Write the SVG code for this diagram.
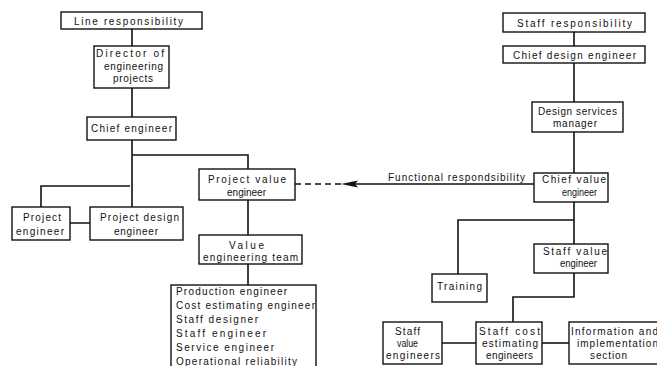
<svg xmlns="http://www.w3.org/2000/svg" width="657" height="366" viewBox="0 0 657 366">
<style>
.b{fill:#fff;stroke:#111;stroke-width:1.4}
.c{fill:none;stroke:#111;stroke-width:1.6}
text{font-family:"Liberation Sans",Arial,sans-serif;font-size:10px;fill:#111}
</style>
<rect width="657" height="366" fill="#fff"/>
<g id="connectors">
<path class="c" d="M132,29V46M132,88V117M132,140V207M132,155H248V169M130,186H41V207M70,223H90M248,200V235M248,264V285"/>
<path class="c" d="M574,32V46M574,63V102M574,132V173M574,202V244M574,220H458V274M574,273V297H513V322M442,343H476"/>
<path class="c" stroke-width="2.6" d="M542,343H569"/>
<path class="c" stroke-dasharray="6,4" d="M295,184H345"/>
<path class="c" d="M350,184H534"/>
<polygon points="341,184 358,180.5 355,184 358,187.5" fill="#111"/>
</g>
<g id="line-responsibility"><rect class="b" x="61" y="12" width="141" height="17"/><text x="74" y="25" textLength="109" lengthAdjust="spacing">Line responsibility</text></g>
<g id="director"><rect class="b" x="94" y="46" width="75" height="42"/>
<text x="96" y="57" textLength="68" lengthAdjust="spacing">Director of</text>
<text x="104" y="70" textLength="59" lengthAdjust="spacing">engineering</text>
<text x="113" y="82" textLength="40" lengthAdjust="spacing">projects</text></g>
<g id="chief-engineer"><rect class="b" x="87" y="117" width="89" height="23"/><text x="91" y="132" textLength="81" lengthAdjust="spacing">Chief engineer</text></g>
<g id="project-engineer"><rect class="b" x="12" y="207" width="58" height="33"/>
<text x="23" y="221" textLength="38" lengthAdjust="spacing">Project</text>
<text x="16" y="235" textLength="48" lengthAdjust="spacing">engineer</text></g>
<g id="project-design-engineer"><rect class="b" x="90" y="207" width="93" height="33"/>
<text x="100" y="221" textLength="79" lengthAdjust="spacing">Project design</text>
<text x="114" y="235" textLength="44" lengthAdjust="spacing">engineer</text></g>
<g id="project-value-engineer"><rect class="b" x="199" y="169" width="96" height="31"/>
<text x="208" y="183" textLength="78" lengthAdjust="spacing">Project value</text>
<text x="227" y="196" textLength="39" lengthAdjust="spacing">engineer</text></g>
<g id="value-engineering-team"><rect class="b" x="199" y="235" width="103" height="29"/>
<text x="229" y="249" textLength="35" lengthAdjust="spacing">Value</text>
<text x="203" y="261" textLength="95" lengthAdjust="spacing">engineering team</text></g>
<g id="team-members"><rect class="b" x="171" y="285" width="145" height="90"/>
<text x="176" y="295" textLength="111" lengthAdjust="spacing">Production engineer</text>
<text x="176" y="309" textLength="139" lengthAdjust="spacing">Cost estimating engineer</text>
<text x="176" y="323" textLength="82" lengthAdjust="spacing">Staff designer</text>
<text x="176" y="337" textLength="90" lengthAdjust="spacing">Staff engineer</text>
<text x="176" y="351" textLength="98" lengthAdjust="spacing">Service engineer</text>
<text x="176" y="365" textLength="121" lengthAdjust="spacing">Operational reliability</text></g>
<g id="functional-label"><text x="388" y="181" textLength="137" lengthAdjust="spacing">Functional respondsibility</text></g>
<g id="staff-responsibility"><rect class="b" x="503" y="13" width="142" height="19"/><text x="517" y="27" textLength="115" lengthAdjust="spacing">Staff responsibility</text></g>
<g id="chief-design-engineer"><rect class="b" x="503" y="46" width="142" height="17"/><text x="513" y="59" textLength="123" lengthAdjust="spacing">Chief design engineer</text></g>
<g id="design-services-manager"><rect class="b" x="532" y="102" width="91" height="30"/>
<text x="538" y="115" textLength="79" lengthAdjust="spacing">Design services</text>
<text x="553" y="127" textLength="44" lengthAdjust="spacing">manager</text></g>
<g id="chief-value-engineer"><rect class="b" x="534" y="173" width="74" height="29"/>
<text x="542" y="183" textLength="64" lengthAdjust="spacing">Chief value</text>
<text x="562" y="196" textLength="35" lengthAdjust="spacingAndGlyphs">engineer</text></g>
<g id="training"><rect class="b" x="432" y="274" width="55" height="28"/><text x="437" y="290" textLength="45" lengthAdjust="spacing">Training</text></g>
<g id="staff-value-engineer"><rect class="b" x="534" y="244" width="74" height="29"/>
<text x="543" y="255" textLength="64" lengthAdjust="spacing">Staff value</text>
<text x="560" y="267" textLength="37" lengthAdjust="spacingAndGlyphs">engineer</text></g>
<g id="staff-value-engineers"><rect class="b" x="383" y="322" width="59" height="42"/>
<text x="395" y="335" textLength="25" lengthAdjust="spacing">Staff</text>
<text x="397" y="347" textLength="21" lengthAdjust="spacingAndGlyphs">value</text>
<text x="386" y="359" textLength="54" lengthAdjust="spacing">engineers</text></g>
<g id="staff-cost-estimating-engineers"><rect class="b" x="476" y="322" width="66" height="42"/>
<text x="479" y="335" textLength="61" lengthAdjust="spacing">Staff cost</text>
<text x="482" y="347" textLength="56" lengthAdjust="spacing">estimating</text>
<text x="486" y="359" textLength="47" lengthAdjust="spacing">engineers</text></g>
<g id="information-implementation"><rect class="b" x="569" y="322" width="100" height="42"/>
<text x="571" y="335" textLength="87" lengthAdjust="spacing">Information and</text>
<text x="577" y="347" textLength="81" lengthAdjust="spacing">implementation</text>
<text x="590" y="359" textLength="37" lengthAdjust="spacing">section</text></g>
</svg>
